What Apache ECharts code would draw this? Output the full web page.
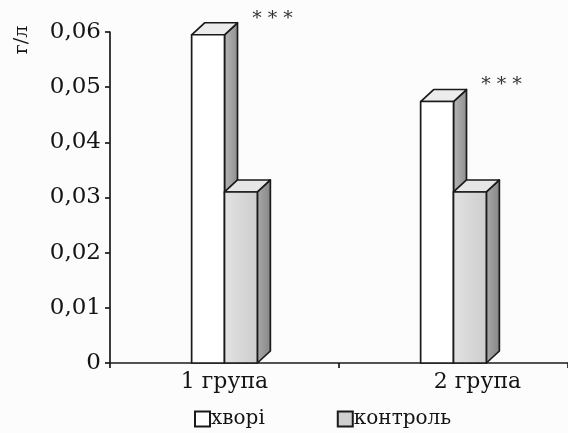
<!DOCTYPE html>
<html>
<head>
<meta charset="utf-8">
<script src="https://cdn.jsdelivr.net/npm/echarts@6/dist/echarts.min.js"></script>
<style>
  html, body { margin: 0; padding: 0; background: #fcfcfc; }
  #chart { width: 568px; height: 433px; }
</style>
</head>
<body>
<div id="chart"></div>
<script>
// Concentration by group, g/l
var categories = ['1 група', '2 група'];
var patients = [0.0595, 0.0474];   // хворі
var controls = [0.031, 0.031];     // контроль
var marks = ['* * *', '* * *'];    // significance vs control
var yTicks = [0, 0.01, 0.02, 0.03, 0.04, 0.05, 0.06];

var FONT = '"DejaVu Serif", "Liberation Serif", serif';
var BAR_FRAC = 0.1435;   // bar width as a share of the category band
var DX = 13, DY = -12;   // pseudo-3D depth offset in px
var EDGE = '#1a1a1a';
var INK = '#141414';

function boxRender(slot, face, top, side, withMarks) {
  return function (params, api) {
    var cat = api.value(0);
    var val = api.value(1);
    var p = api.coord([cat, val]);
    var b = api.coord([cat, 0]);
    var band = api.size([1, 0])[0];
    var w = band * BAR_FRAC;
    var x0 = p[0] + slot * w;
    var x1 = x0 + w;
    var yt = p[1];
    var yb = b[1];
    var line = { stroke: EDGE, lineWidth: 1.7, lineJoin: 'round' };
    var children = [
      {
        type: 'polygon',
        shape: { points: [[x1, yt], [x1 + DX, yt + DY], [x1 + DX, yb + DY], [x1, yb]] },
        style: Object.assign({ fill: side }, line)
      },
      {
        type: 'polygon',
        shape: { points: [[x0, yt], [x0 + DX, yt + DY], [x1 + DX, yt + DY], [x1, yt]] },
        style: Object.assign({ fill: top }, line)
      },
      {
        type: 'rect',
        shape: { x: x0, y: yt, width: w, height: yb - yt },
        style: Object.assign({ fill: face }, line)
      }
    ];
    if (withMarks) {
      children.push({
        type: 'text',
        style: {
          text: marks[params.dataIndex],
          x: x1 + 48, y: yt - 16,
          align: 'center', verticalAlign: 'middle',
          font: '19px ' + FONT, fill: '#333'
        }
      });
    }
    return { type: 'group', children: children };
  };
}

var chart = echarts.init(document.getElementById('chart'));
chart.setOption({
  backgroundColor: '#fcfcfc',
  animation: false,
  grid: { left: 110, right: -2, top: 32, bottom: 70 },
  legend: {
    left: 189, top: 404,
    itemWidth: 15, itemHeight: 15, itemGap: 72,
    icon: 'rect',
    textStyle: { fontFamily: FONT, fontSize: 20, color: INK, padding: [0, 0, 0, -4] },
    data: ['хворі', 'контроль']
  },
  graphic: [{
    type: 'text',
    x: 22, y: 40,
    rotation: Math.PI / 2,
    style: {
      text: 'г/л', font: '19px ' + FONT, fill: INK,
      align: 'center', verticalAlign: 'middle'
    }
  }],
  xAxis: {
    type: 'category',
    data: [categories[0], { value: categories[1], textStyle: { padding: [0, 0, 0, 48] } }],
    axisLine: { lineStyle: { color: EDGE, width: 1.7 } },
    axisTick: { show: true, length: 5, lineStyle: { color: EDGE, width: 1.7 } },
    axisLabel: { fontFamily: FONT, fontSize: 22, color: INK, margin: 8 }
  },
  yAxis: {
    type: 'value',
    min: yTicks[0], max: yTicks[yTicks.length - 1], interval: 0.01,
    splitLine: { show: false },
    axisLine: { show: true, lineStyle: { color: EDGE, width: 1.7 } },
    axisTick: { show: true, length: 5, lineStyle: { color: EDGE, width: 1.7 } },
    axisLabel: {
      fontFamily: FONT, fontSize: 23, color: INK, margin: 9,
      formatter: function (v) { return v === 0 ? '0' : v.toFixed(2).replace('.', ','); }
    }
  },
  series: [
    {
      name: 'хворі',
      type: 'custom',
      itemStyle: { color: '#ffffff', borderColor: EDGE, borderWidth: 1.5 },
      renderItem: boxRender(-1, '#ffffff', '#ececec',
        new echarts.graphic.LinearGradient(0, 0, 1, 0, [{ offset: 0, color: '#b8b8b8' }, { offset: 1, color: '#8e8e8e' }]), true),
      encode: { x: 0, y: 1 },
      data: patients.map(function (v, i) { return [i, v]; }),
      z: 2
    },
    {
      name: 'контроль',
      type: 'custom',
      itemStyle: { color: '#cfcfcf', borderColor: EDGE, borderWidth: 1.5 },
      renderItem: boxRender(0,
        new echarts.graphic.LinearGradient(0, 0, 1, 0, [{ offset: 0, color: '#e2e2e2' }, { offset: 1, color: '#cdcdcd' }]),
        '#e6e6e6',
        new echarts.graphic.LinearGradient(0, 0, 1, 0, [{ offset: 0, color: '#aaaaaa' }, { offset: 1, color: '#858585' }]), false),
      encode: { x: 0, y: 1 },
      data: controls.map(function (v, i) { return [i, v]; }),
      z: 3
    }
  ]
});
</script>
</body>
</html>
